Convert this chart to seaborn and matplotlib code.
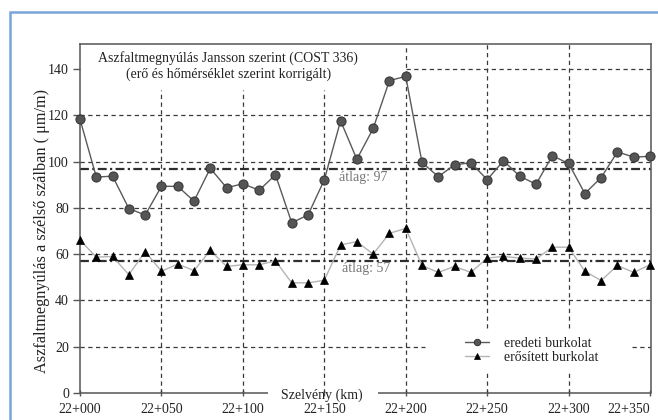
import matplotlib
matplotlib.use("Agg")
import matplotlib.pyplot as plt
import seaborn as sns
import pandas as pd
from matplotlib.patches import Rectangle

# Chainage stations (m from 22+000) and measured strains (µm/m)
stations = [0, 10, 20, 30, 40, 50, 60, 70, 80, 90, 100, 110, 120, 130, 140, 150,
            160, 170, 180, 190, 200, 210, 220, 230, 240, 250, 260, 270, 280, 290,
            300, 310, 320, 330, 340, 350]
eredeti = [118.3, 93.3, 93.7, 79.7, 76.9, 89.3, 89.3, 82.9, 97.1, 88.7, 90.4, 87.6,
           94.3, 73.6, 76.9, 92.1, 117.6, 101.0, 114.3, 135.0, 136.8, 99.6, 93.5,
           98.6, 99.5, 92.2, 100.3, 93.7, 90.2, 102.5, 99.2, 86.2, 93.1, 104.2,
           101.9, 102.3]
erositett = [66.1, 58.7, 59.0, 51.1, 61.1, 52.6, 55.7, 52.9, 61.6, 54.7, 55.4, 55.4,
             57.1, 47.6, 47.6, 48.7, 64.0, 65.4, 60.0, 69.0, 71.1, 55.1, 52.1, 54.7,
             52.1, 58.3, 59.0, 58.3, 57.9, 63.0, 63.0, 52.6, 48.6, 55.1, 52.1, 55.4]
atlag_eredeti = 97
atlag_erositett = 57

xtick_pos = [0, 50, 100, 150, 200, 250, 300, 350]
xtick_labels = ["22+000", "22+050", "22+100", "22+150", "22+200", "22+250",
                "22+300", "22+350"]
ytick_pos = [0, 20, 40, 60, 80, 100, 120, 140]

sns.set_theme(style="white")
plt.rcParams["font.family"] = ["Liberation Serif", "DejaVu Serif"]
plt.rcParams["text.color"] = "#222222"

df = pd.DataFrame({"szelveny": stations, "eredeti": eredeti, "erositett": erositett})

fig = plt.figure(figsize=(6.58, 4.2), dpi=100)
fig.patch.set_facecolor("white")
ax = fig.add_axes([80 / 658, 1 - 393 / 420, 571 / 658, 349 / 420])
ax.set_xlim(0, 350.6)
ax.set_ylim(0, 150.8)

# dashed grid, partly interrupted by the title block and the legend
grid_kw = dict(colors="#3a3a3a", linewidth=0.9, linestyles=(0, (3.4, 2.8)), zorder=1)
ax.hlines([40, 60, 80, 100, 120], 0, 350.6, **grid_kw)
ax.hlines([20], 0, 212, **grid_kw)
ax.hlines([20], 339, 350.6, **grid_kw)
ax.hlines([140], 200, 350.6, **grid_kw)
ax.vlines([50, 100, 150], 0, 131, **grid_kw)
ax.vlines([200], 0, 150.8, **grid_kw)
ax.vlines([250, 300], 0, 9, **grid_kw)
ax.vlines([250, 300], 28, 150.8, **grid_kw)

# mean lines
mean_kw = dict(color="#2e2e2e", linewidth=1.6, linestyle=(0, (4, 1.5, 1, 1.5)), zorder=2)
ax.axhline(atlag_eredeti, **mean_kw)
ax.axhline(atlag_erositett, **mean_kw)
ax.text(159, 92.9, f"átlag: {atlag_eredeti}", fontsize=10, color="#777777",
        ha="left", va="center")
ax.text(161, 54.0, f"átlag: {atlag_erositett}", fontsize=10, color="#777777",
        ha="left", va="center")

sns.lineplot(data=df, x="szelveny", y="eredeti", ax=ax, color="#5a5a5a",
             linewidth=1.0, marker="o", markersize=6.6, markerfacecolor="#555555",
             markeredgecolor="#333333", markeredgewidth=0.7,
             label="eredeti burkolat", clip_on=False, zorder=5)
sns.lineplot(data=df, x="szelveny", y="erositett", ax=ax, color="#b4b4b4",
             linewidth=1.0, marker="^", markersize=6.2, markerfacecolor="black",
             markeredgecolor="black", markeredgewidth=0.5,
             label="erősített burkolat", clip_on=False, zorder=4)

ax.legend(loc="center left", bbox_to_anchor=(0.662, 0.122), frameon=False,
          borderpad=0, handlelength=1.7, handletextpad=1.1, labelspacing=0.1,
          fontsize=10, markerscale=0.7)

# title block inside the axes
ax.text(91, 144.7, "Aszfaltmegnyúlás Jansson szerint (COST 336)", fontsize=10,
        ha="center", va="center")
ax.text(91, 137.8, "(erő és hőmérséklet szerint korrigált)", fontsize=10,
        ha="center", va="center")

# axes frame: bottom line broken by the axis title
spine_color = "#555555"
for side in ["left", "top", "right"]:
    ax.spines[side].set_color(spine_color)
    ax.spines[side].set_linewidth(1.1)
ax.spines["bottom"].set_visible(False)
ax.plot([0, 0.329], [0, 0], transform=ax.transAxes, color=spine_color, lw=1.1,
        clip_on=False, solid_capstyle="butt", zorder=3)
ax.plot([0.522, 1], [0, 0], transform=ax.transAxes, color=spine_color, lw=1.1,
        clip_on=False, solid_capstyle="butt", zorder=3)
ax.text(0.423, -0.006, "Szelvény (km)", transform=ax.transAxes, fontsize=10,
        ha="center", va="center", clip_on=False)

ax.set_xticks(xtick_pos)
ax.set_xticklabels(xtick_labels)
ax.get_xticklabels()[-1].set_horizontalalignment("right")
ax.set_yticks(ytick_pos)
ax.set_xlabel("")
ax.set_ylabel("")
ax.tick_params(axis="x", bottom=True, direction="inout", length=5, width=1,
               color=spine_color, pad=5, labelsize=10, labelcolor="#222222")
ax.tick_params(axis="y", left=True, direction="out", length=5, width=1,
               color=spine_color, pad=3, labelsize=10, labelcolor="#222222")

fig.text(42 / 658, 1 - 231 / 420, "Aszfaltmegnyúlás a szélső szálban ( μm/m)",
         rotation=90, fontsize=11.7, ha="center", va="center")

# light blue page frame
fig.add_artist(Rectangle((10 / 658, -0.1), 1.2, 0.9714 + 0.1,
                         transform=fig.transFigure, fill=False,
                         edgecolor="#7ba4db", linewidth=1.8))

fig.savefig("out.png", dpi=100, facecolor="white")
